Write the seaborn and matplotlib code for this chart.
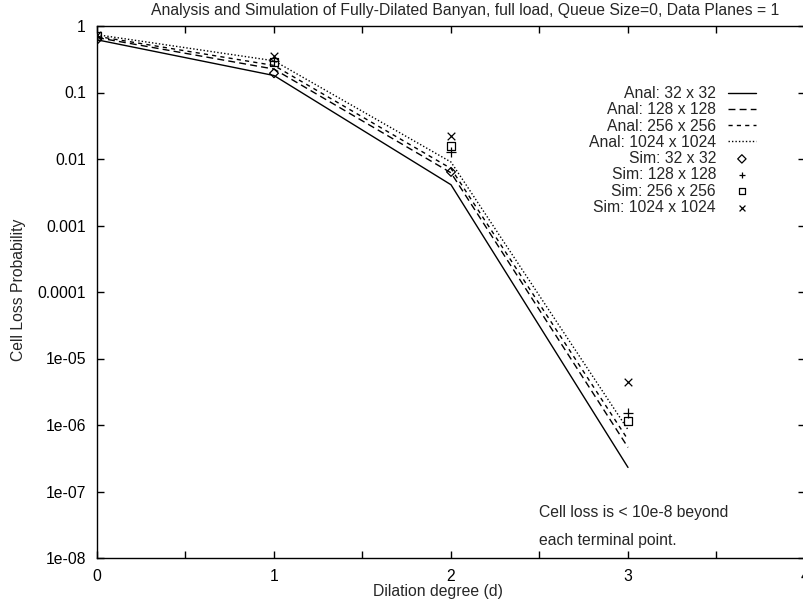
import matplotlib
matplotlib.use("Agg")
import matplotlib.pyplot as plt
import seaborn as sns
import pandas as pd
import numpy as np

# Dilation degrees and analytical cell loss curves per switch size
dilation = [0, 1, 2, 3]
anal_32 = [0.62, 0.18, 0.0041, 2.3e-7]
anal_128 = [0.67, 0.225, 0.0062, 4.6e-7]
anal_256 = [0.70, 0.255, 0.0072, 6.0e-7]
anal_1024 = [0.74, 0.30, 0.0090, 8.5e-7]

# Simulation results (32 x 32 has no point at d=3)
sim_x_32 = [0, 1, 2]
sim_32 = [0.62, 0.195, 0.0064]
sim_x = [0, 1, 2, 3]
sim_128 = [0.68, 0.30, 0.0127, 1.5e-6]
sim_256 = [0.70, 0.29, 0.0158, 1.15e-6]
sim_1024 = [0.74, 0.36, 0.022, 4.4e-6]

anal_labels = ["Anal: 32 x 32", "Anal: 128 x 128", "Anal: 256 x 256", "Anal: 1024 x 1024"]
sim_labels = ["Sim: 32 x 32", "Sim: 128 x 128", "Sim: 256 x 256", "Sim: 1024 x 1024"]

y_ticks = [1, 0.1, 0.01, 0.001, 0.0001, 1e-5, 1e-6, 1e-7, 1e-8]
y_tick_labels = ["1", "0.1", "0.01", "0.001", "0.0001", "1e-05", "1e-06", "1e-07", "1e-08"]

sns.set_theme(style="white")
plt.rcParams["font.family"] = ["Liberation Sans", "DejaVu Sans"]
plt.rcParams["font.size"] = 11.3

fig = plt.figure(figsize=(8.04, 5.99), dpi=100)
ax = fig.add_axes([97 / 804, 1 - 558 / 599, 708 / 804, 532 / 599])

dash_styles = [(None, None), (5, 3), (3, 3), (1, 1.5)]
anal_series = [anal_32, anal_128, anal_256, anal_1024]
for vals, lab, ds in zip(anal_series, anal_labels, dash_styles):
    df = pd.DataFrame({"d": dilation, "p": vals})
    sns.lineplot(data=df, x="d", y="p", ax=ax, color="black", linewidth=1.0,
                 label=lab, legend=False)
    line = ax.lines[-1]
    if ds[0] is not None:
        line.set_dashes(ds)

sim_series = [(sim_x_32, sim_32, "D", 4.5, True), (sim_x, sim_128, "+", 6.5, False),
              (sim_x, sim_256, "s", 5.5, True), (sim_x, sim_1024, "x", 5.5, False)]
for (xs, vals, mk, ms, hollow), lab in zip(sim_series, sim_labels):
    df = pd.DataFrame({"d": xs, "p": vals})
    if hollow:
        sns.scatterplot(data=df, x="d", y="p", ax=ax, marker=mk, s=ms ** 2,
                        facecolor="none", edgecolor="black", linewidth=0.9,
                        label=lab, legend=False)
    else:
        sns.scatterplot(data=df, x="d", y="p", ax=ax, marker=mk, s=ms ** 2,
                        color="black", linewidth=0.9, label=lab, legend=False)

ax.set_yscale("log")
ax.set_ylim(1e-8, 1)
ax.set_xlim(0, 4)
ax.set_yticks(y_ticks)
ax.set_yticklabels(y_tick_labels)
ax.yaxis.set_minor_locator(matplotlib.ticker.NullLocator())
ax.set_xticks(np.arange(0, 4.01, 0.5))
ax.set_xticklabels(["0", "", "1", "", "2", "", "3", "", "4"])

for sp in ax.spines.values():
    sp.set_color("black")
    sp.set_linewidth(1.0)
ax.tick_params(axis="both", which="both", direction="in", length=5, width=1.0,
               top=True, right=True, bottom=True, left=True, colors="black",
               labelsize=11.3)
ax.tick_params(axis="y", pad=8)
ax.tick_params(axis="x", pad=8)

ax.set_xlabel("Dilation degree (d)", fontsize=11.3)
ax.xaxis.set_label_coords((438 - 97) / 708, -0.048)
ax.set_ylabel("Cell Loss Probability", fontsize=11.3)
ax.yaxis.set_label_coords((26 - 97) / 708, 0.504)

fig.text(465 / 804, 1 - 11 / 599,
         "Analysis and Simulation of Fully-Dilated Banyan, full load, Queue Size=0, Data Planes = 1",
         ha="center", va="center", fontsize=11.3)

ax.text(2.5, 10 ** -7.31, "Cell loss is < 10e-8 beyond", ha="left", va="center", fontsize=11.3)
ax.text(2.5, 10 ** -7.73, "each terminal point.", ha="left", va="center", fontsize=11.3)

handles, labels = ax.get_legend_handles_labels()
leg = ax.legend(handles, labels, loc="upper right", frameon=False, markerfirst=False,
                bbox_to_anchor=(756 / 804, 1 - 86 / 599), bbox_transform=fig.transFigure,
                borderpad=0, borderaxespad=0, labelspacing=0.08, handlelength=1.8,
                handletextpad=0.75, fontsize=11.3)
for h in leg.legend_handles:
    if hasattr(h, "set_sizes"):
        h.set_sizes([18])

fig.savefig("out.png", dpi=100)
